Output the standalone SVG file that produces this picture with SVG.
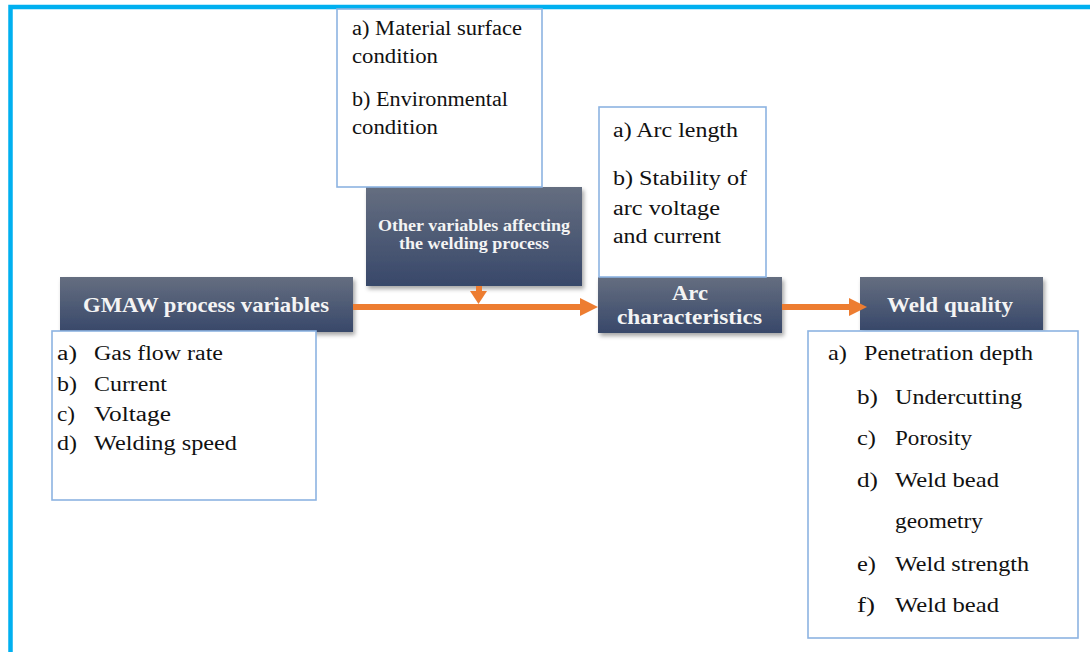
<svg xmlns="http://www.w3.org/2000/svg" width="1090" height="652" viewBox="0 0 1090 652">
<style>
.dark{fill:url(#g);filter:url(#sh)}
.list{fill:#fff;stroke:#8DB3E2;stroke-width:1.6}
.t{font-family:"Liberation Serif","Times New Roman",serif;fill:#111;font-size:20px}
.w{font-size:22px}
.h{font-family:"Liberation Serif","Times New Roman",serif;font-weight:bold;fill:#F4F4F4;font-size:21px;text-anchor:start}
.s{font-size:16px}
.arr{fill:#ED7D31}
</style>
<defs>
<linearGradient id="g" x1="0" y1="0" x2="0" y2="1">
<stop offset="0" stop-color="#656E80"/>
<stop offset="1" stop-color="#38486A"/>
</linearGradient>
<filter id="sh" x="-10%" y="-20%" width="130%" height="150%">
<feDropShadow dx="2" dy="3" stdDeviation="2" flood-color="#000" flood-opacity="0.35"/>
</filter>
</defs>
<rect width="1090" height="652" fill="#fff"/>
<path d="M10.5,652 V7 H1090" fill="none" stroke="#00B0F0" stroke-width="4.5"/>

<g id="gmaw">
<rect class="dark" x="60" y="277" width="293" height="55"/>
<text class="h" x="83" y="312" textLength="246" lengthAdjust="spacingAndGlyphs">GMAW process variables</text>
</g>
<g id="gmaw-list">
<rect class="list" x="52" y="331" width="264" height="169"/>
<text class="t" x="57" y="360" textLength="20" lengthAdjust="spacingAndGlyphs">a)</text>
<text class="t" x="94" y="360" textLength="129" lengthAdjust="spacingAndGlyphs">Gas flow rate</text>
<text class="t" x="57" y="391" textLength="20" lengthAdjust="spacingAndGlyphs">b)</text>
<text class="t" x="94" y="391" textLength="73" lengthAdjust="spacingAndGlyphs">Current</text>
<text class="t" x="57" y="421" textLength="18" lengthAdjust="spacingAndGlyphs">c)</text>
<text class="t" x="94" y="421" textLength="77" lengthAdjust="spacingAndGlyphs">Voltage</text>
<text class="t" x="57" y="450" textLength="20" lengthAdjust="spacingAndGlyphs">d)</text>
<text class="t" x="94" y="450" textLength="143" lengthAdjust="spacingAndGlyphs">Welding speed</text>
</g>

<g id="other">
<rect class="dark" x="366" y="187" width="216" height="99"/>
<text class="h s" x="378" y="231" textLength="192" lengthAdjust="spacingAndGlyphs">Other variables affecting</text>
<text class="h s" x="399" y="249" textLength="150" lengthAdjust="spacingAndGlyphs">the welding process</text>
</g>
<g id="other-list">
<rect class="list" x="337" y="9" width="205" height="178"/>
<text class="t" x="352" y="35" textLength="170" lengthAdjust="spacingAndGlyphs">a) Material surface</text>
<text class="t" x="352" y="63" textLength="86" lengthAdjust="spacingAndGlyphs">condition</text>
<text class="t" x="352" y="106" textLength="156" lengthAdjust="spacingAndGlyphs">b) Environmental</text>
<text class="t" x="352" y="134" textLength="86" lengthAdjust="spacingAndGlyphs">condition</text>
</g>

<g id="arc">
<rect class="dark" x="598" y="277" width="184" height="56"/>
<text class="h" x="672" y="300" textLength="36" lengthAdjust="spacingAndGlyphs">Arc</text>
<text class="h" x="617" y="324" textLength="145" lengthAdjust="spacingAndGlyphs">characteristics</text>
</g>
<g id="arc-list">
<rect class="list" x="599" y="107" width="167" height="170"/>
<text class="t" x="613" y="137" textLength="125" lengthAdjust="spacingAndGlyphs">a) Arc length</text>
<text class="t" x="613" y="185" textLength="134" lengthAdjust="spacingAndGlyphs">b) Stability of</text>
<text class="t" x="613" y="215" textLength="107" lengthAdjust="spacingAndGlyphs">arc voltage</text>
<text class="t" x="613" y="243" textLength="108" lengthAdjust="spacingAndGlyphs">and current</text>
</g>

<g id="weld">
<rect class="dark" x="860" y="277" width="183" height="53"/>
<text class="h" x="887" y="312" textLength="126" lengthAdjust="spacingAndGlyphs">Weld quality</text>
</g>
<g id="weld-list">
<rect class="list" x="808" y="331" width="270" height="307"/>
<text class="t w" x="828" y="360" textLength="19" lengthAdjust="spacingAndGlyphs">a)</text>
<text class="t w" x="864" y="360" textLength="169" lengthAdjust="spacingAndGlyphs">Penetration depth</text>
<text class="t w" x="857" y="404" textLength="21" lengthAdjust="spacingAndGlyphs">b)</text>
<text class="t w" x="895" y="404" textLength="127" lengthAdjust="spacingAndGlyphs">Undercutting</text>
<text class="t w" x="857" y="445" textLength="19" lengthAdjust="spacingAndGlyphs">c)</text>
<text class="t w" x="895" y="445" textLength="77" lengthAdjust="spacingAndGlyphs">Porosity</text>
<text class="t w" x="857" y="487" textLength="21" lengthAdjust="spacingAndGlyphs">d)</text>
<text class="t w" x="895" y="487" textLength="104" lengthAdjust="spacingAndGlyphs">Weld bead</text>
<text class="t w" x="895" y="528" textLength="88" lengthAdjust="spacingAndGlyphs">geometry</text>
<text class="t w" x="857" y="571" textLength="19" lengthAdjust="spacingAndGlyphs">e)</text>
<text class="t w" x="895" y="571" textLength="134" lengthAdjust="spacingAndGlyphs">Weld strength</text>
<text class="t w" x="857" y="612" textLength="18" lengthAdjust="spacingAndGlyphs">f)</text>
<text class="t w" x="895" y="612" textLength="104" lengthAdjust="spacingAndGlyphs">Weld bead</text>
</g>

<g id="connectors">
<rect class="arr" x="353" y="304" width="229" height="6"/>
<polygon class="arr" points="580,298 598,307 580,316"/>
<rect class="arr" x="782" y="304" width="69" height="6"/>
<polygon class="arr" points="849,298 867,307 849,316"/>
<rect class="arr" x="476" y="286" width="6" height="6"/>
<polygon class="arr" points="470,291 487,291 478.5,304"/>
</g>
</svg>
